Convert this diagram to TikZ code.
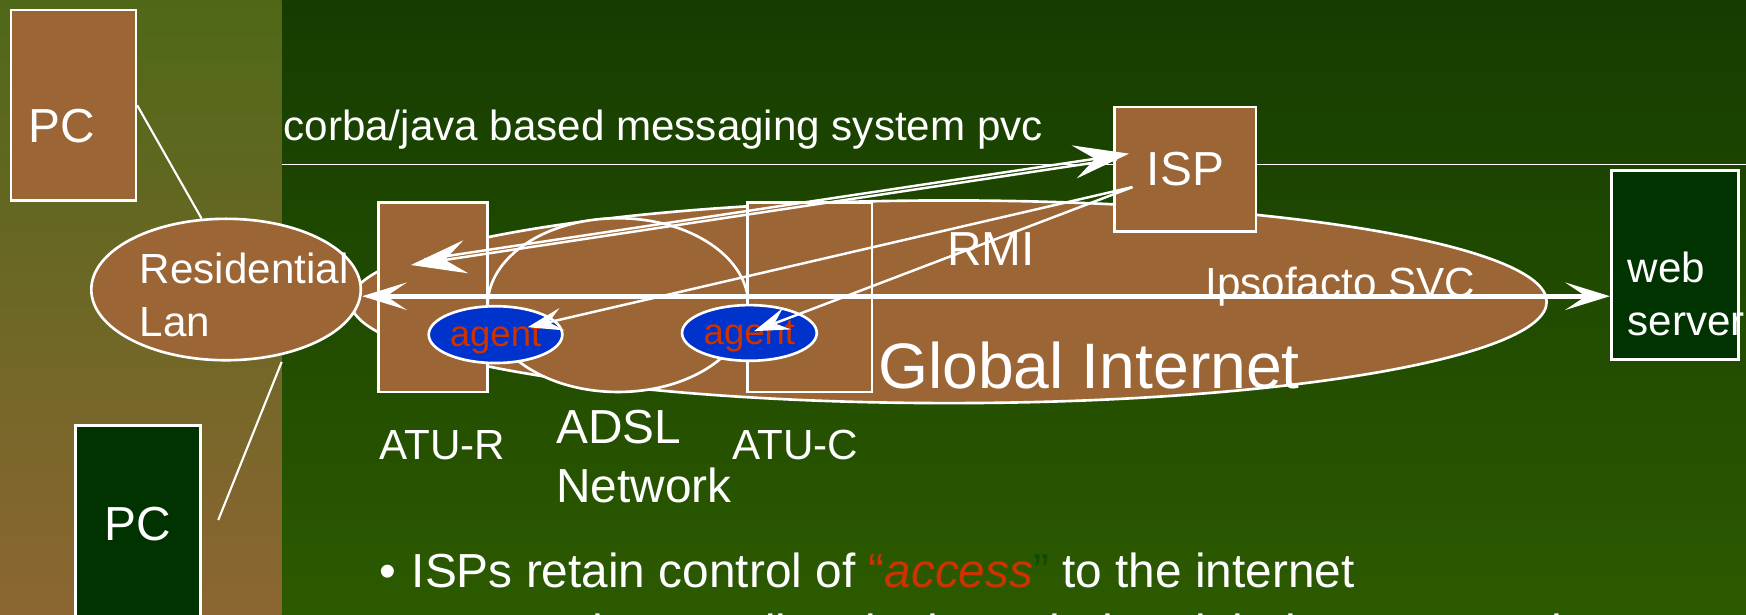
\documentclass[tikz,border=0pt]{standalone}
\usepackage{fontspec}
\setmainfont{Liberation Sans}
\usetikzlibrary{shapes.geometric,arrows.meta}

\definecolor{slidebrown}{HTML}{9C6535}
\definecolor{slidegreen}{HTML}{003300}
\definecolor{agentblue}{HTML}{0033CC}
\definecolor{agentred}{HTML}{CC3300}
\definecolor{bgtop}{HTML}{163C00}
\definecolor{bgbot}{HTML}{2C5A00}
\definecolor{striptop}{HTML}{4F6818}
\definecolor{stripbot}{HTML}{8C6632}
\definecolor{quotegreen}{HTML}{0E4A00}

\newcommand{\px}[1]{#1*0.011135cm}
\newcommand{\sizeHuge}{\fontsize{18.3}{22}\selectfont}
\newcommand{\sizeBig}{\fontsize{13.6}{16.8}\selectfont}
\newcommand{\sizeMid}{\fontsize{12}{15}\selectfont}
\newcommand{\sizeSmall}{\fontsize{10.4}{12}\selectfont}

\tikzstyle{brownbox} = [draw=white, line width=0.75pt, fill=slidebrown, inner sep=0pt]
\tikzstyle{greenbox} = [brownbox, fill=slidegreen]
\tikzstyle{blob} = [ellipse, draw=white, line width=0.75pt, fill=slidebrown, inner sep=0pt]
\tikzstyle{agent} = [ellipse, draw=white, line width=0.75pt, fill=agentblue, text=agentred, font=\sizeSmall, text depth=0pt, inner sep=0pt]
\tikzstyle{txt} = [text=white, inner sep=0pt, anchor=base west]
\tikzstyle{wire} = [white, line width=0.6pt]
\tikzstyle{svc} = [white, line width=1.4pt, arrows={Stealth[length=12.7pt,width=7.8pt,inset=5.8pt]-Stealth[length=12.7pt,width=7.8pt,inset=5.8pt]}]
\tikzstyle{msg} = [white, line width=0.7pt, arrows={-Stealth[length=15.8pt,width=9.5pt,inset=6pt]}]
\tikzstyle{rmi} = [white, line width=0.7pt, arrows={-Stealth[length=10pt,width=6.5pt,inset=3.8pt]}]

\begin{document}
\begin{tikzpicture}[x=0.011135cm, y=-0.011135cm]

    \useasboundingbox (0,0) rectangle (1568,552);
    \clip (0,0) rectangle (1568,552);

    % slide background and left strip
    \shade[top color=bgtop, bottom color=bgbot] (0,0) rectangle (1568,552);
    \shade[top color=striptop, bottom color=stripbot] (0,0) rectangle (253,552);

    % thin rule under the messaging caption
    \draw[white, line width=0.35pt] (253,148) -- (1568,148);

    % Global Internet cloud and ADSL network cloud
    \node[blob, minimum width=\px{1074}, minimum height=\px{182}] (inet) at (852,271) {};
    \node[blob, minimum width=\px{234}, minimum height=\px{156}] (adsl) at (555,274) {};

    % ATU-R and ATU-C modems
    \node[brownbox, minimum width=\px{98}, minimum height=\px{170}] (atur) at (389,267) {};
    \node[brownbox, minimum width=\px{112}, minimum height=\px{170}] (atuc) at (727,267) {};

    % agents sitting on the modems
    \node[agent, minimum width=\px{120}, minimum height=\px{51}] (agentR) at (445,300.5) {agent};
    \node[agent, minimum width=\px{121}, minimum height=\px{50}] (agentC) at (673,299) {agent};

    % Residential Lan
    \node[blob, minimum width=\px{242}, minimum height=\px{127}] (lan) at (203,260) {};
    \node[txt, font=\sizeMid, align=left] (lanLbl) at (125,302) {Residential\\Lan};

    % the two PCs
    \node[brownbox, minimum width=\px{112}, minimum height=\px{171}] (pcTop) at (66,94.5) {};
    \node[txt, font=\sizeBig] (pcTopLbl) at (25,128) {PC};
    \node[greenbox, minimum width=\px{112}, minimum height=\px{178}, text=white, font=\sizeBig] (pcBot) at (124,471) {PC};

    % ISP and web server
    \node[brownbox, minimum width=\px{127}, minimum height=\px{112}, text=white, font=\sizeBig] (isp) at (1064.5,152) {ISP};
    \node[greenbox, minimum width=\px{114}, minimum height=\px{170}] (web) at (1504,238) {};
    \node[txt, font=\sizeMid, align=left] (webLbl) at (1461,301) {web\\server};

    % captions
    \node[txt, font=\sizeMid] (corbaLbl) at (254,126) {corba/java based messaging system pvc};
    \node[txt, font=\sizeBig] (rmiLbl) at (850,238) {RMI};
    \node[txt, font=\sizeMid] (svcLbl) at (1082,267) {Ipsofacto SVC};
    \node[txt, font=\sizeHuge] (inetLbl) at (788,349) {Global Internet};
    \node[txt, font=\sizeMid] (aturLbl) at (340,413) {ATU-R};
    \node[txt, font=\sizeBig, align=left] (adslLbl) at (499,451) {ADSL\\Network};
    \node[txt, font=\sizeMid] (atucLbl) at (657,413) {ATU-C};

    % bullets
    \node[txt, font=\sizeBig] (bulletA) at (340,528) {\textbullet\hspace{4.5pt}ISPs retain control of {\color{agentred}“\textit{access}}{\color{quotegreen}”} to the internet};
    \node[txt, font=\sizeBig] (bulletB) at (340,582) {\textbullet\hspace{4.5pt}Data path goes directly through the global Internet to the server};

    % PCs on the residential lan
    \coordinate (lanGap) at (253,325);
    \coordinate (pcGap) at (196,467);
    \draw[wire] (pcTop.east) -- (lan.109);
    \draw[wire] (lanGap) -- (pcGap);

    % Ipsofacto SVC, lan <-> web server
    \coordinate (svc) at (0,266);
    \draw[svc] (lan.east |- svc) -- (web.west |- svc);

    % corba/java messaging, ATU-R <-> ISP
    \coordinate (aturTip) at (369,238);
    \coordinate (aturTail) at (381,233);
    \coordinate (ispTip) at (1014,138);
    \coordinate (ispTail) at (1003,143);
    \draw[msg] (aturTail) -- (ispTip);
    \draw[msg] (ispTail) -- (aturTip);

    % RMI from ISP to the agents
    \coordinate (ispRmi) at (1017,168);
    \draw[rmi, shorten >=0.33cm] (ispRmi) -- (agentR.center);
    \draw[rmi, shorten >=0.05cm] (ispRmi) -- (agentC.center);

\end{tikzpicture}
\end{document}
